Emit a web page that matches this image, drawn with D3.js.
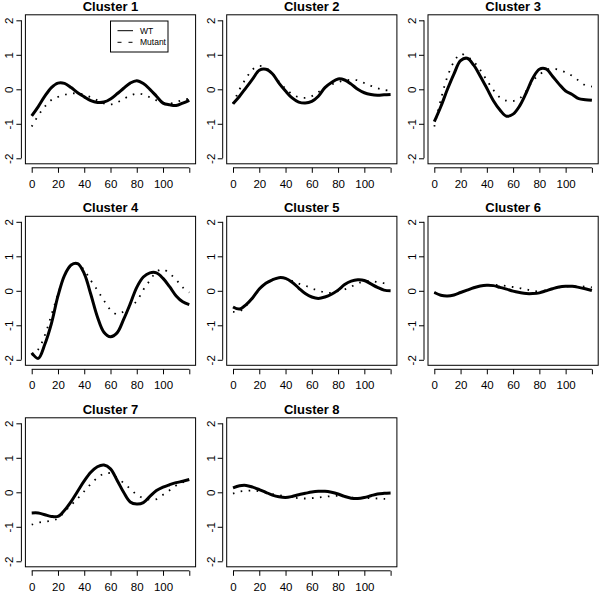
<!DOCTYPE html>
<html><head><meta charset="utf-8">
<script src="https://cdn.jsdelivr.net/npm/d3@7"></script>
<style>body{margin:0;background:#fff}svg{display:block}</style>
</head><body>
<script>
const times = [0,5,10,15,20,25,30,35,40,45,50,55,60,65,70,75,80,85,90,95,100,105,110,115,120];
const clusterNames = ["Cluster 1","Cluster 2","Cluster 3","Cluster 4","Cluster 5","Cluster 6","Cluster 7","Cluster 8"];
const wt1 = [-0.77,-0.5,-0.2,0.05,0.18,0.17,0.05,-0.1,-0.22,-0.33,-0.38,-0.37,-0.28,-0.13,0.03,0.18,0.25,0.17,0.0,-0.2,-0.4,-0.45,-0.47,-0.4,-0.32];
const mu1 = [-1.08,-0.76,-0.5,-0.31,-0.22,-0.16,-0.12,-0.12,-0.16,-0.23,-0.32,-0.41,-0.44,-0.38,-0.28,-0.18,-0.13,-0.15,-0.23,-0.32,-0.39,-0.41,-0.38,-0.3,-0.28];
const wt2 = [-0.42,-0.2,0.05,0.3,0.55,0.58,0.45,0.18,-0.05,-0.25,-0.37,-0.4,-0.35,-0.2,0.05,0.2,0.3,0.27,0.15,0.0,-0.1,-0.15,-0.17,-0.16,-0.15];
const mu2 = [-0.42,0.0,0.32,0.58,0.68,0.62,0.46,0.22,0.02,-0.14,-0.23,-0.25,-0.2,-0.08,0.05,0.14,0.21,0.26,0.27,0.26,0.18,0.1,0.03,-0.02,-0.04];
const wt3 = [-0.94,-0.5,0.0,0.45,0.83,0.9,0.7,0.38,0.03,-0.33,-0.6,-0.78,-0.72,-0.48,-0.1,0.32,0.58,0.59,0.38,0.15,-0.05,-0.15,-0.27,-0.3,-0.32];
const mu3 = [-1.08,-0.29,0.37,0.8,1.02,0.95,0.8,0.56,0.26,-0.02,-0.24,-0.33,-0.34,-0.26,-0.05,0.25,0.42,0.56,0.6,0.56,0.49,0.39,0.25,0.12,0.08];
const wt4 = [-1.8,-1.96,-1.55,-0.95,-0.15,0.45,0.75,0.79,0.5,-0.1,-0.75,-1.2,-1.33,-1.22,-0.83,-0.38,0.1,0.4,0.52,0.52,0.36,0.12,-0.15,-0.32,-0.4];
const mu4 = [-1.87,-1.7,-1.29,-0.7,-0.1,0.45,0.72,0.78,0.6,0.3,0.02,-0.28,-0.55,-0.68,-0.6,-0.46,-0.3,0.03,0.3,0.55,0.62,0.5,0.32,0.1,-0.05];
const wt5 = [-0.47,-0.53,-0.4,-0.2,0.05,0.22,0.32,0.38,0.36,0.25,0.08,-0.08,-0.18,-0.22,-0.18,-0.1,0.02,0.18,0.28,0.32,0.3,0.2,0.1,0.02,0.0];
const mu5 = [-0.61,-0.6,-0.43,-0.22,0.03,0.2,0.31,0.37,0.36,0.29,0.21,0.15,0.07,0.01,-0.05,-0.06,-0.01,0.04,0.12,0.22,0.27,0.29,0.25,0.22,0.2];
const wt6 = [-0.05,-0.13,-0.15,-0.12,-0.05,0.02,0.09,0.14,0.16,0.15,0.1,0.05,-0.01,-0.05,-0.08,-0.08,-0.06,0.0,0.06,0.11,0.13,0.13,0.1,0.06,0.01];
const mu6 = [-0.04,-0.13,-0.15,-0.12,-0.06,0.02,0.09,0.14,0.16,0.17,0.16,0.14,0.11,0.08,0.04,0.0,-0.02,0.01,0.06,0.1,0.13,0.13,0.13,0.12,0.1];
const wt7 = [-0.6,-0.6,-0.65,-0.7,-0.7,-0.52,-0.27,0.03,0.33,0.58,0.74,0.79,0.68,0.35,0.0,-0.28,-0.34,-0.3,-0.12,0.05,0.15,0.22,0.28,0.32,0.37];
const mu7 = [-0.94,-0.88,-0.85,-0.82,-0.76,-0.56,-0.37,-0.18,0.03,0.24,0.42,0.54,0.55,0.42,0.27,0.1,-0.07,-0.17,-0.21,-0.2,-0.07,0.06,0.2,0.29,0.35];
const wt8 = [0.13,0.19,0.2,0.15,0.08,0.0,-0.08,-0.13,-0.15,-0.12,-0.07,-0.03,0.01,0.03,0.03,0.0,-0.05,-0.12,-0.17,-0.18,-0.15,-0.1,-0.05,-0.03,-0.02];
const mu8 = [-0.04,0.02,0.04,0.05,0.03,-0.01,-0.05,-0.08,-0.12,-0.15,-0.17,-0.18,-0.17,-0.15,-0.13,-0.11,-0.1,-0.12,-0.15,-0.17,-0.17,-0.17,-0.18,-0.19,-0.19];
const wtSeries = [wt1,wt2,wt3,wt4,wt5,wt6,wt7,wt8];
const muSeries = [mu1,mu2,mu3,mu4,mu5,mu6,mu7,mu8];
const xTicks = [0,20,40,60,80,100,120];
const xTickLabels = ["0","20","40","60","80","100",""];
const yTicks = [-2,-1,0,1,2];
const legendLabels = ["WT","Mutant"];

const W = 600, H = 592;
const svg = d3.select("body").append("svg").attr("width",W).attr("height",H)
  .style("font-family","'Liberation Sans', Arial, Helvetica, sans-serif");

const colPitch = 201.3, rowPitch = 201.5;
const x = d3.scaleLinear().domain([-4.8,124.8]).range([25.4,195.6]);
const y = d3.scaleLinear().domain([-2.16,2.16]).range([163.8,14.8]);
const line = d3.line().x((d,i)=>x(times[i])).y(d=>y(d)).curve(d3.curveCatmullRom.alpha(0.5));

clusterNames.forEach((name,k)=>{
  const c = k%3, r = Math.floor(k/3);
  const g = svg.append("g").attr("transform",`translate(${c*colPitch},${r*rowPitch})`);
  // box
  g.append("rect").attr("x",x.range()[0]).attr("y",y.range()[1])
    .attr("width",x.range()[1]-x.range()[0]).attr("height",y.range()[0]-y.range()[1])
    .attr("fill","none").attr("stroke","#000").attr("stroke-width",1);
  // x axis
  const xa = g.append("g").attr("transform",`translate(0,${y.range()[0]+4})`)
    .call(d3.axisBottom(x).tickValues(xTicks).tickFormat((d,i)=>xTickLabels[i]).tickSize(5).tickSizeOuter(0));
  xa.select(".domain").attr("d",`M${x(0)},0H${x(120)}`).attr("stroke","#000");
  xa.selectAll("text").attr("font-size","11.5px").attr("fill","#000")
    .attr("font-family","'Liberation Sans', Arial, sans-serif")
    .attr("y",20).attr("dy",null);
  xa.selectAll("line").attr("stroke","#000");
  // y axis
  const ya = g.append("g").attr("transform",`translate(${x.range()[0]-4},0)`)
    .call(d3.axisLeft(y).tickValues(yTicks).tickFormat(d=>d<0?"-"+Math.abs(d):String(d)).tickSize(5).tickSizeOuter(0));
  ya.select(".domain").attr("d",`M0,${y(2)}V${y(-2)}`).attr("stroke","#000");
  ya.selectAll("line").attr("stroke","#000");
  ya.selectAll("text").attr("font-size","11.5px").attr("fill","#000")
    .attr("font-family","'Liberation Sans', Arial, sans-serif")
    .attr("x",null).attr("dy",null)
    .attr("text-anchor","middle")
    .attr("transform","translate(-8,0) rotate(-90)");
  // title
  g.append("text").attr("x",(x.range()[0]+x.range()[1])/2).attr("y",y.range()[1]-4.3)
    .attr("text-anchor","middle").attr("font-weight","bold").attr("font-size","13px").text(name);
  // series
  g.append("path").datum(muSeries[k]).attr("d",line).attr("fill","none")
    .attr("stroke","#000").attr("stroke-width",1.8).attr("stroke-dasharray","1.6,6.4");
  g.append("path").datum(wtSeries[k]).attr("d",line).attr("fill","none")
    .attr("stroke","#000").attr("stroke-width",3).attr("stroke-linejoin","round");
  if(k===0){
    const lg = g.append("g");
    lg.append("rect").attr("x",110.5).attr("y",21).attr("width",57.5).attr("height",31)
      .attr("fill","#fff").attr("stroke","#000");
    lg.append("line").attr("x1",117.5).attr("x2",133).attr("y1",30.7).attr("y2",30.7).attr("stroke","#000").attr("stroke-width",1);
    lg.append("line").attr("x1",117.5).attr("x2",133).attr("y1",42.3).attr("y2",42.3).attr("stroke","#000").attr("stroke-width",1).attr("stroke-dasharray","4,7");
    lg.append("text").attr("x",140).attr("y",33.6).attr("font-size","8.5px").text(legendLabels[0]);
    lg.append("text").attr("x",140).attr("y",45.2).attr("font-size","8.5px").text(legendLabels[1]);
  }
});
</script>
</body></html>
